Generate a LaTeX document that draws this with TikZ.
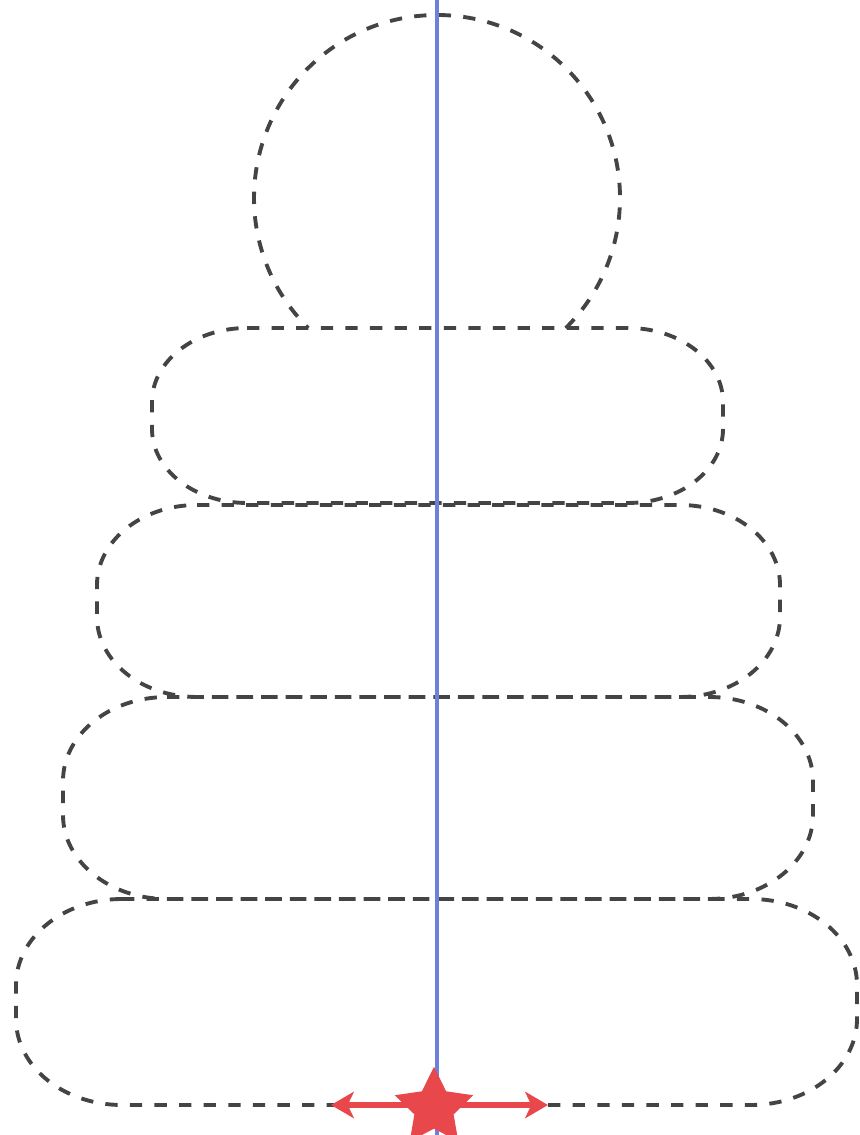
\documentclass[tikz,border=0pt]{standalone}
\usepackage{tikz}
\usetikzlibrary{arrows.meta,shapes.geometric}

\definecolor{ringgray}{HTML}{444444}
\definecolor{axisblue}{HTML}{6F80D8}
\definecolor{pushred}{HTML}{E8474B}

\begin{document}
\begin{tikzpicture}[x=0.02cm, y=0.02cm,
    ringline/.style={ringgray, line width=2.2pt, dash pattern=on 7pt off 7pt},
    axisline/.style={axisblue, line width=2pt},
    pushline/.style={pushred, line width=3.2pt, -{Stealth[length=13pt, width=15pt, inset=3.5pt]}}]
    \useasboundingbox (0,0) rectangle (859,1135);

    % --- Head (top ball) ---
    \draw[ringline] ({437+183*cos(-45.3)}, {937+183*sin(-45.3)})
        arc[start angle=-45.3, end angle=225.3, radius=183];

    % --- Rings (left/right/top/bottom, corner radii) ---
    \foreach \l/\r/\t/\b/\rx/\ry in {152/723/807/632/95/74,
                                     97/780/630/438/100/80,
                                     63/813/438/236/104/84,
                                     16/857/236/30/106/86}
        \draw[ringline] ({\l+\rx}, \t) -- ({\r-\rx}, \t)
            arc[start angle=90, end angle=0, x radius=\rx, y radius=\ry]
            -- (\r, {\b+\ry})
            arc[start angle=0, end angle=-90, x radius=\rx, y radius=\ry]
            -- ({\l+\rx}, \b)
            arc[start angle=270, end angle=180, x radius=\rx, y radius=\ry]
            -- (\l, {\t-\ry})
            arc[start angle=180, end angle=90, x radius=\rx, y radius=\ry]
            -- cycle;

    % --- Axis ---
    \coordinate (axistop) at (437,1135);
    \coordinate (axisbot) at (437,0);
    \draw[axisline] (axistop) -- (axisbot);

    % --- Support point and pushes ---
    \coordinate (pushleft) at (331,30);
    \coordinate (pushright) at (548,30);
    \draw[pushline] (434,30) -- (pushleft);
    \draw[pushline] (434,30) -- (pushright);
    \node[star, star points=5, star point ratio=2.0, fill=pushred,
          inner sep=0pt, minimum size=1.65cm] (pivot) at (434,27) {};
\end{tikzpicture}
\end{document}
